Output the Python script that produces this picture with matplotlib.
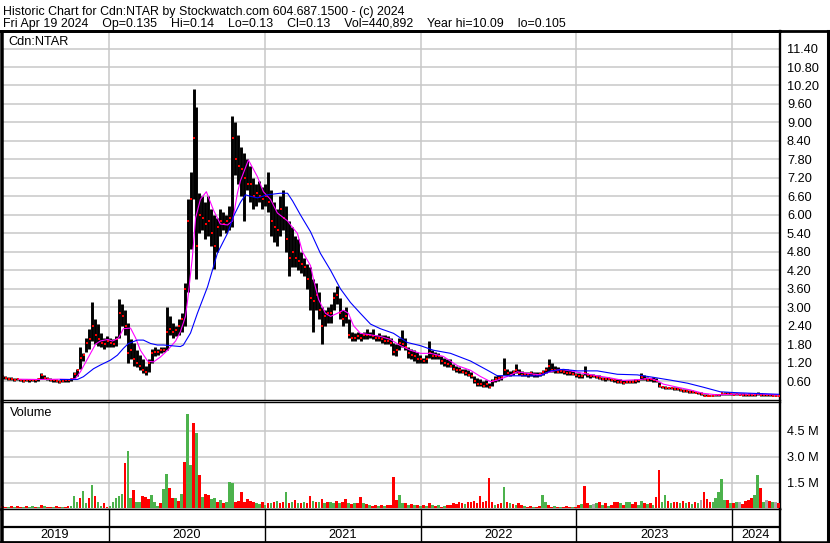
import numpy as np
import pandas as pd
import matplotlib
matplotlib.use("Agg")
import matplotlib.pyplot as plt
from matplotlib.lines import Line2D

plt.rcParams["font.family"] = ["Liberation Sans", "DejaVu Sans"]

# weekly bars (Fridays), Apr 26 2019 .. Apr 19 2024
weeks = pd.date_range("2019-04-26", "2024-04-19", freq="W-FRI")

high = [
    0.78, 0.76, 0.74, 0.72, 0.70, 0.70, 0.68, 0.66, 0.68, 0.66,
    0.68, 0.66, 0.70, 0.86, 0.80, 0.72, 0.70, 0.68, 0.66, 0.64,
    0.66, 0.68, 0.66, 0.70, 0.88, 1.00, 1.72, 1.50, 2.00, 2.30,
    3.17, 2.60, 2.45, 2.15, 2.00, 2.05, 2.00, 1.95, 2.05, 3.28,
    3.10, 2.90, 2.50, 1.95, 1.85, 1.60, 1.45, 1.30, 1.10, 1.30,
    1.65, 1.70, 1.65, 1.70, 1.70, 3.00, 2.70, 2.50, 2.40, 2.60,
    2.80, 3.80, 6.50, 7.40, 10.10, 9.50, 6.70, 6.60, 6.40, 6.60,
    6.20, 6.00, 5.90, 6.20, 6.10, 6.00, 6.30, 9.20, 9.00, 8.60,
    8.20, 8.00, 7.80, 7.60, 7.20, 7.00, 7.10, 6.90, 7.00, 7.40,
    6.80, 6.40, 6.20, 6.60, 6.80, 6.30, 5.80, 5.60, 5.30, 5.20,
    4.80, 4.60, 4.40, 4.30, 3.90, 3.80, 3.50, 3.00, 2.90, 3.00,
    3.10, 3.50, 3.70, 3.30, 2.90, 3.00, 2.60, 2.20, 2.15, 2.20,
    2.15, 2.20, 2.30, 2.20, 2.30, 2.10, 2.15, 2.10, 2.10, 2.05,
    2.00, 1.85, 1.80, 2.00, 2.25, 2.00, 1.70, 1.65, 1.60, 1.55,
    1.45, 1.35, 1.45, 1.90, 1.60, 1.55, 1.50, 1.40, 1.35, 1.30,
    1.30, 1.15, 1.10, 1.05, 1.00, 1.00, 0.95, 0.90, 0.75, 0.70,
    0.65, 0.60, 0.62, 0.55, 0.65, 0.75, 0.78, 0.80, 1.34, 1.00,
    0.92, 0.95, 1.15, 1.00, 0.92, 0.90, 0.90, 0.92, 0.90, 0.88,
    0.90, 0.95, 1.05, 1.30, 1.20, 1.10, 1.05, 1.00, 1.00, 0.98,
    0.95, 0.92, 0.85, 0.85, 0.82, 1.10, 0.85, 0.82, 0.82, 0.80,
    0.78, 0.74, 0.74, 0.72, 0.70, 0.68, 0.66, 0.65, 0.62, 0.64,
    0.62, 0.64, 0.65, 0.68, 0.85, 0.78, 0.72, 0.70, 0.72, 0.70,
    0.56, 0.45, 0.44, 0.42, 0.42, 0.40, 0.40, 0.36, 0.34, 0.33,
    0.30, 0.30, 0.28, 0.25, 0.24, 0.18, 0.17, 0.16, 0.16, 0.17,
    0.18, 0.22, 0.25, 0.23, 0.22, 0.20, 0.22, 0.21, 0.20, 0.19,
    0.20, 0.19, 0.20, 0.25, 0.20, 0.19, 0.18, 0.17, 0.16, 0.16, 0.14,
]
low = [
    0.68, 0.66, 0.64, 0.62, 0.60, 0.62, 0.59, 0.58, 0.60, 0.58,
    0.60, 0.58, 0.60, 0.66, 0.66, 0.62, 0.60, 0.58, 0.56, 0.55,
    0.56, 0.58, 0.56, 0.60, 0.66, 0.75, 1.00, 1.25, 1.55, 1.65,
    1.90, 1.80, 1.75, 1.70, 1.65, 1.70, 1.70, 1.70, 1.75, 2.00,
    2.40, 2.10, 1.20, 1.30, 1.10, 1.05, 0.95, 0.85, 0.78, 0.90,
    1.20, 1.40, 1.45, 1.50, 1.55, 1.60, 2.10, 2.00, 2.05, 2.10,
    2.20, 2.40, 3.50, 4.90, 6.50, 3.90, 5.40, 5.50, 5.20, 5.30,
    5.00, 4.25, 4.80, 5.30, 5.50, 5.40, 5.50, 5.60, 7.30, 7.00,
    6.60, 5.80, 6.80, 6.40, 6.20, 6.30, 6.40, 6.20, 6.30, 6.10,
    5.30, 5.10, 5.00, 5.30, 5.50, 4.80, 4.00, 4.30, 4.30, 4.20,
    4.10, 4.00, 3.60, 2.90, 2.20, 2.90, 2.60, 1.80, 2.40, 2.50,
    2.50, 2.90, 3.10, 2.60, 2.40, 2.50, 2.00, 1.90, 1.90, 1.95,
    1.90, 1.95, 1.95, 2.00, 1.95, 1.90, 1.90, 1.85, 1.80, 1.80,
    1.75, 1.45, 1.40, 1.60, 1.70, 1.60, 1.35, 1.30, 1.25, 1.20,
    1.20, 1.20, 1.20, 1.35, 1.30, 1.30, 1.30, 1.15, 1.10, 1.05,
    1.05, 0.95, 0.90, 0.85, 0.85, 0.80, 0.75, 0.70, 0.55, 0.45,
    0.45, 0.40, 0.40, 0.38, 0.45, 0.58, 0.60, 0.62, 0.80, 0.78,
    0.75, 0.78, 0.85, 0.80, 0.75, 0.75, 0.72, 0.75, 0.72, 0.72,
    0.75, 0.80, 0.85, 0.90, 0.90, 0.85, 0.85, 0.85, 0.82, 0.80,
    0.80, 0.78, 0.72, 0.70, 0.70, 0.78, 0.72, 0.70, 0.72, 0.70,
    0.66, 0.62, 0.60, 0.62, 0.60, 0.58, 0.55, 0.52, 0.50, 0.52,
    0.52, 0.54, 0.55, 0.56, 0.62, 0.64, 0.60, 0.60, 0.58, 0.56,
    0.42, 0.36, 0.35, 0.34, 0.33, 0.32, 0.31, 0.28, 0.26, 0.24,
    0.22, 0.20, 0.20, 0.18, 0.16, 0.10, 0.10, 0.10, 0.10, 0.11,
    0.11, 0.15, 0.16, 0.16, 0.15, 0.14, 0.15, 0.14, 0.13, 0.13,
    0.13, 0.12, 0.13, 0.14, 0.13, 0.12, 0.12, 0.12, 0.11, 0.12, 0.13,
]
close = [
    0.72, 0.70, 0.68, 0.65, 0.64, 0.66, 0.62, 0.61, 0.64, 0.62,
    0.64, 0.62, 0.66, 0.78, 0.70, 0.66, 0.64, 0.62, 0.60, 0.58,
    0.60, 0.64, 0.62, 0.66, 0.82, 0.95, 1.35, 1.45, 1.85, 1.95,
    2.40, 2.10, 1.95, 1.85, 1.80, 1.90, 1.85, 1.80, 1.95, 2.80,
    2.70, 2.40, 1.50, 1.60, 1.30, 1.20, 1.10, 0.95, 0.90, 1.20,
    1.50, 1.55, 1.55, 1.60, 1.62, 2.20, 2.30, 2.20, 2.25, 2.40,
    2.60, 3.60, 5.80, 6.50, 8.50, 5.00, 6.00, 5.90, 5.70, 5.80,
    5.40, 5.00, 5.60, 5.80, 5.70, 5.80, 5.90, 8.50, 7.80, 7.60,
    7.50, 7.20, 7.00, 7.00, 6.60, 6.70, 6.60, 6.50, 6.60, 6.40,
    5.80, 5.60, 5.50, 6.20, 5.90, 5.20, 4.60, 4.80, 4.60, 4.50,
    4.40, 4.30, 3.90, 3.30, 3.20, 3.40, 2.90, 2.40, 2.70, 2.80,
    2.80, 3.30, 3.40, 2.80, 2.60, 2.70, 2.10, 2.00, 2.00, 2.05,
    2.00, 2.10, 2.10, 2.10, 2.05, 2.00, 2.00, 1.95, 1.90, 1.90,
    1.85, 1.55, 1.60, 1.85, 1.80, 1.70, 1.50, 1.45, 1.40, 1.30,
    1.30, 1.25, 1.30, 1.50, 1.40, 1.40, 1.40, 1.25, 1.20, 1.15,
    1.10, 1.00, 0.95, 0.95, 0.90, 0.85, 0.80, 0.75, 0.60, 0.50,
    0.50, 0.45, 0.50, 0.42, 0.60, 0.65, 0.70, 0.72, 0.95, 0.85,
    0.80, 0.90, 0.95, 0.85, 0.80, 0.82, 0.78, 0.85, 0.80, 0.78,
    0.82, 0.90, 0.95, 1.10, 0.95, 0.95, 0.90, 0.92, 0.88, 0.85,
    0.85, 0.82, 0.78, 0.75, 0.75, 0.85, 0.78, 0.75, 0.76, 0.74,
    0.70, 0.68, 0.65, 0.66, 0.64, 0.62, 0.58, 0.56, 0.55, 0.58,
    0.56, 0.58, 0.60, 0.62, 0.72, 0.68, 0.64, 0.65, 0.62, 0.60,
    0.44, 0.40, 0.38, 0.38, 0.36, 0.35, 0.33, 0.30, 0.28, 0.27,
    0.25, 0.24, 0.22, 0.20, 0.18, 0.12, 0.12, 0.13, 0.12, 0.14,
    0.16, 0.20, 0.18, 0.18, 0.17, 0.16, 0.18, 0.16, 0.15, 0.15,
    0.16, 0.15, 0.16, 0.18, 0.15, 0.15, 0.14, 0.14, 0.13, 0.13, 0.13,
]
# volume in millions of shares, colour code g=up r=down n=unchanged
volume = [
    0.12, 0.10, 0.08, 0.12, 0.10, 0.15, 0.08, 0.10, 0.12, 0.10,
    0.15, 0.08, 0.10, 0.18, 0.12, 0.10, 0.08, 0.10, 0.12, 0.08,
    0.10, 0.08, 0.12, 0.15, 0.73, 0.35, 0.58, 1.00, 0.30, 0.58,
    1.38, 0.70, 0.35, 0.12, 0.30, 0.10, 0.15, 0.38, 0.58, 0.70,
    0.85, 2.63, 3.30, 0.60, 1.06, 0.40, 0.38, 0.70, 0.65, 0.55,
    0.80, 0.38, 0.15, 0.30, 1.10, 2.00, 1.20, 0.60, 0.60, 0.45,
    0.85, 2.70, 5.44, 2.50, 4.94, 4.37, 1.92, 0.65, 0.85, 0.75,
    0.55, 0.60, 0.40, 0.50, 0.30, 0.40, 1.54, 1.50, 0.40, 0.45,
    0.96, 0.40, 0.55, 0.45, 0.35, 0.30, 0.25, 0.35, 0.20, 0.30,
    0.30, 0.35, 0.45, 0.30, 0.40, 0.96, 0.30, 0.35, 0.50, 0.30,
    0.30, 0.35, 0.30, 0.70, 0.45, 0.40, 0.35, 0.55, 0.30, 0.35,
    0.40, 0.30, 0.45, 0.30, 0.35, 0.55, 0.30, 0.25, 0.30, 0.30,
    0.65, 0.30, 0.25, 0.20, 0.15, 0.20, 0.15, 0.20, 0.15, 0.20,
    0.20, 1.80, 0.50, 0.80, 0.30, 0.30, 0.20, 0.25, 0.20, 0.20,
    0.15, 0.20, 0.15, 0.30, 0.20, 0.15, 0.20, 0.10, 0.15, 0.20,
    0.20, 0.30, 0.25, 0.35, 0.30, 0.25, 0.35, 0.40, 0.45, 0.30,
    0.70, 0.40, 0.45, 1.75, 0.35, 0.20, 0.25, 0.30, 1.23, 0.40,
    0.30, 0.25, 0.20, 0.30, 0.20, 0.15, 0.10, 0.15, 0.10, 0.10,
    0.15, 0.80, 0.35, 0.20, 0.10, 0.15, 0.10, 0.10, 0.10, 0.12,
    0.10, 0.10, 0.08, 0.20, 0.25, 1.29, 0.30, 0.20, 0.25, 0.30,
    0.40, 0.20, 0.30, 0.15, 0.20, 0.35, 0.40, 0.30, 0.20, 0.35,
    0.40, 0.25, 0.35, 0.20, 0.45, 0.30, 0.25, 0.30, 0.20, 0.65,
    2.20, 0.40, 0.77, 0.45, 0.30, 0.40, 0.35, 0.30, 0.45, 0.30,
    0.35, 0.25, 0.40, 0.30, 0.50, 0.94, 0.55, 0.40, 0.35, 0.60,
    0.98, 1.69, 0.50, 0.50, 0.30, 0.30, 0.35, 0.40, 0.25, 0.45,
    0.50, 0.60, 0.80, 1.92, 1.20, 0.40, 0.50, 0.45, 0.35, 0.40, 0.30,
]
vol_dir = (
    "rrgrgrrgrg" "grgrgrrgrr" "grrgggrggr" "grggrrgggg" "grggrggrrr"
    "gggrggrrgr" "grggrgrgrr" "ggrgrgggrr" "rrrrrggrgr" "grgrrgrgrg"
    "rgrrgrgrgr" "ggrgrrgrgr" "rgrgrrgrgr" "rrrggrgrgr" "grgrgrgrgr"
    "rrrrrgrrrr" "rrrrrgrrgr" "grgrrgrrgr" "rggrrgrgrr" "rgrrgrrgng"
    "rgrgrrrgrg" "grrggrgrgr" "rggrgrrgrg" "rgrgnrrrgg" "gggrgrgnrr"
    "rrggrgnrgnr"
)

# moving averages: (week number, value)
ma_short_wk = [5.4, 12.7, 19.4, 22.8, 24.5, 26.1, 27.8, 29.5, 31.2, 32.8,
               35.2, 36.9, 38.9, 40.5, 42.9, 44.6, 46.2, 48.6, 50.6, 52.9,
               55.3, 58.0, 59.6, 61.3, 62.0, 63.6, 64.7, 66.3, 68.3, 70.7,
               73.0, 75.4, 77.1, 78.7, 79.7, 82.4, 85.4, 87.4, 89.8, 92.1,
               95.5, 97.5, 98.8, 100.5, 103.2, 104.2, 105.9, 108.2, 109.9, 112.2,
               114.2, 115.9, 117.6, 119.9, 123.3, 126.6, 130.0, 133.3, 136.7, 140.0,
               143.4, 147.7, 152.4, 156.8, 160.1, 163.5, 165.8, 169.2, 172.5, 175.9,
               180.2, 183.6, 186.9, 190.3, 194.6, 199.3, 203.7, 208.0, 213.7, 217.0,
               219.4, 221.4, 226.1, 230.5, 234.8, 239.5, 243.9, 248.2, 253.9, 260.0]
ma_short = [0.66, 0.65, 0.66, 0.65, 0.68, 0.90, 1.20, 1.50, 1.80, 1.90,
            1.95, 1.90, 2.00, 2.30, 2.32, 2.00, 1.60, 1.25, 1.22, 1.38,
            1.60, 1.90, 2.20, 2.70, 3.20, 4.60, 5.90, 6.50, 6.75, 6.15,
            5.70, 5.67, 5.80, 6.70, 7.10, 7.78, 7.24, 6.75, 6.50, 6.06,
            5.80, 5.55, 5.40, 4.80, 4.35, 3.90, 3.25, 2.80, 2.70, 2.80,
            2.90, 2.80, 2.40, 2.15, 2.10, 2.05, 1.95, 1.75, 1.60, 1.50,
            1.50, 1.40, 1.10, 0.95, 0.75, 0.58, 0.63, 0.75, 0.90, 0.85,
            0.80, 0.90, 0.98, 0.93, 0.85, 0.77, 0.70, 0.62, 0.65, 0.69,
            0.61, 0.50, 0.40, 0.31, 0.20, 0.15, 0.17, 0.18, 0.18, 0.15]
ma_long_wk = [19.4, 25.1, 27.1, 30.5, 32.8, 36.2, 38.5, 40.5, 42.2, 45.2,
              47.2, 49.6, 51.9, 53.9, 56.3, 59.6, 60.6, 63.0, 65.3, 68.7,
              72.0, 75.4, 77.4, 79.7, 81.4, 83.1, 85.4, 88.8, 93.1, 95.5,
              97.2, 99.8, 103.2, 106.5, 109.9, 113.2, 116.6, 119.9, 123.3, 126.6,
              131.0, 135.7, 140.0, 144.4, 150.1, 156.8, 162.5, 165.8, 172.5, 180.2,
              183.6, 187.9, 192.6, 199.3, 206.0, 212.7, 218.1, 223.8, 229.5, 234.8,
              240.5, 246.2, 251.6, 260.0]
ma_long = [0.65, 0.65, 0.74, 1.00, 1.12, 1.28, 1.44, 1.66, 1.82, 1.93,
           1.93, 1.82, 1.77, 1.77, 1.75, 1.72, 1.77, 2.16, 2.80, 3.66,
           4.75, 5.40, 5.95, 6.40, 6.65, 6.60, 6.55, 6.65, 6.70, 6.70,
           6.45, 6.00, 5.45, 4.75, 4.20, 3.60, 3.15, 2.80, 2.45, 2.30,
           2.15, 1.85, 1.75, 1.60, 1.50, 1.25, 0.95, 0.77, 0.77, 0.77,
           0.93, 0.98, 0.93, 0.93, 0.82, 0.80, 0.72, 0.63, 0.53, 0.40,
           0.25, 0.22, 0.20, 0.17]

price_ticks = [0.6, 1.2, 1.8, 2.4, 3.0, 3.6, 4.2, 4.8, 5.4, 6.0, 6.6, 7.2,
               7.8, 8.4, 9.0, 9.6, 10.2, 10.8, 11.4]
vol_ticks = [1.5, 3.0, 4.5]
years = [2019, 2020, 2021, 2022, 2023, 2024]

title1 = "Historic Chart for Cdn:NTAR by Stockwatch.com 604.687.1500 - (c) 2024"
title2 = ("Fri Apr 19 2024    Op=0.135    Hi=0.14    Lo=0.13    Cl=0.13    "
          "Vol=440,892    Year hi=10.09    lo=0.105")

# ---------------------------------------------------------------------
W, H = 830, 543
GRID = "#c8c8c8"
FS = 9.2
vol_colors = {"g": "#4cb24c", "r": "#ff0000", "n": "#a8a8a8"}

fig = plt.figure(figsize=(W / 100, H / 100), dpi=100)


def box(left, top, right, bottom):
    return [left / W, 1 - bottom / H, (right - left) / W, (bottom - top) / H]


t0 = weeks[0]
ma_s_dates = t0 + pd.to_timedelta(np.array(ma_short_wk) * 7, unit="D")
ma_l_dates = t0 + pd.to_timedelta(np.array(ma_long_wk) * 7, unit="D")
xlim = (t0 - pd.Timedelta(days=3.5), weeks[-1] + pd.Timedelta(days=3.5))

ax_p = fig.add_axes(box(1, 31, 780, 400))
ax_v = fig.add_axes(box(1, 402, 780, 509))
ax_d = fig.add_axes(box(1, 509, 780, 541.5))

# price panel
ax_p.vlines(weeks, low, high, color="black", lw=2.1, zorder=3)
ax_p.plot(weeks + pd.Timedelta(days=1.5), close, ls="none", marker="s",
          ms=2.0, mew=0, color="#ff0000", zorder=4)
ax_p.plot(ma_s_dates, ma_short, color="#ff00ff", lw=0.8, zorder=5)
ax_p.plot(ma_l_dates, ma_long, color="#0000ff", lw=0.8, zorder=5)
ax_p.set_ylim(-0.016, 11.97)
ax_p.set_yticks(price_ticks)
ax_p.set_yticklabels([f"{t:.2f}" for t in price_ticks])
ax_p.text(0.009, 0.987, "Cdn:NTAR", transform=ax_p.transAxes,
          fontsize=FS, va="top", ha="left")

# volume panel
ax_v.bar(weeks, volume, width=6.3, color=[vol_colors[c] for c in vol_dir],
         align="center", zorder=3)
ax_v.set_ylim(-0.03, 6.15)
ax_v.set_yticks(vol_ticks)
ax_v.set_yticklabels([f"{t:.1f} M" for t in vol_ticks])
ax_v.text(0.011, 0.95, "Volume", transform=ax_v.transAxes,
          fontsize=FS, va="top", ha="left")

year_starts = [pd.Timestamp(f"{y}-01-01") for y in years[1:]]

for ax in (ax_p, ax_v):
    ax.set_xlim(*xlim)
    ax.set_xticks([])
    ax.yaxis.tick_right()
    ax.tick_params(axis="y", length=0, pad=5, labelsize=FS)
    ax.grid(axis="y", color=GRID, lw=1.1, zorder=0)
    for d in year_starts:
        ax.axvline(d, color=GRID, lw=1.1, zorder=0)
    ax.set_axisbelow(True)
    ax.spines["left"].set_linewidth(1.8)
    ax.spines["right"].set_linewidth(1.7)
    ax.spines["top"].set_linewidth(1.0)
    ax.spines["bottom"].set_linewidth(1.0)
ax_p.spines["top"].set_linewidth(2.0)

# date strip
ax_d.set_xlim(*xlim)
ax_d.set_ylim(0, 1)
ax_d.set_xticks([])
ax_d.set_yticks([])
ax_d.axhline(0.44, color="black", lw=1.6)
for d in year_starts:
    ax_d.axvline(d, color="black", lw=1.0)
ax_d.spines["left"].set_linewidth(1.8)
ax_d.spines["right"].set_linewidth(1.7)
ax_d.spines["top"].set_linewidth(1.0)
ax_d.spines["bottom"].set_linewidth(2.0)
lo_lim, hi_lim = xlim
for y in years:
    a = max(pd.Timestamp(f"{y}-01-01"), lo_lim)
    b = min(pd.Timestamp(f"{y + 1}-01-01"), hi_lim)
    ax_d.text(a + (b - a) / 2, 0.2, str(y), ha="center", va="center",
              fontsize=FS)

# outer frame
fig.add_artist(Line2D([0, 1], [1 - 31 / H] * 2, color="black", lw=2.0))
fig.add_artist(Line2D([1.5 / W] * 2, [0, 1 - 31 / H], color="black", lw=1.8))
fig.add_artist(Line2D([1 - 2 / W] * 2, [0, 1 - 31 / H], color="black", lw=2.2))
fig.add_artist(Line2D([780 / W, 1], [1 - 542 / H] * 2, color="black", lw=1.8))

# header
fig.text(3 / W, 1 - 14.5 / H, title1, fontsize=8.9, va="baseline", ha="left")
fig.text(3 / W, 1 - 27.5 / H, title2, fontsize=8.9, va="baseline", ha="left")

fig.savefig("out.png", dpi=100)
